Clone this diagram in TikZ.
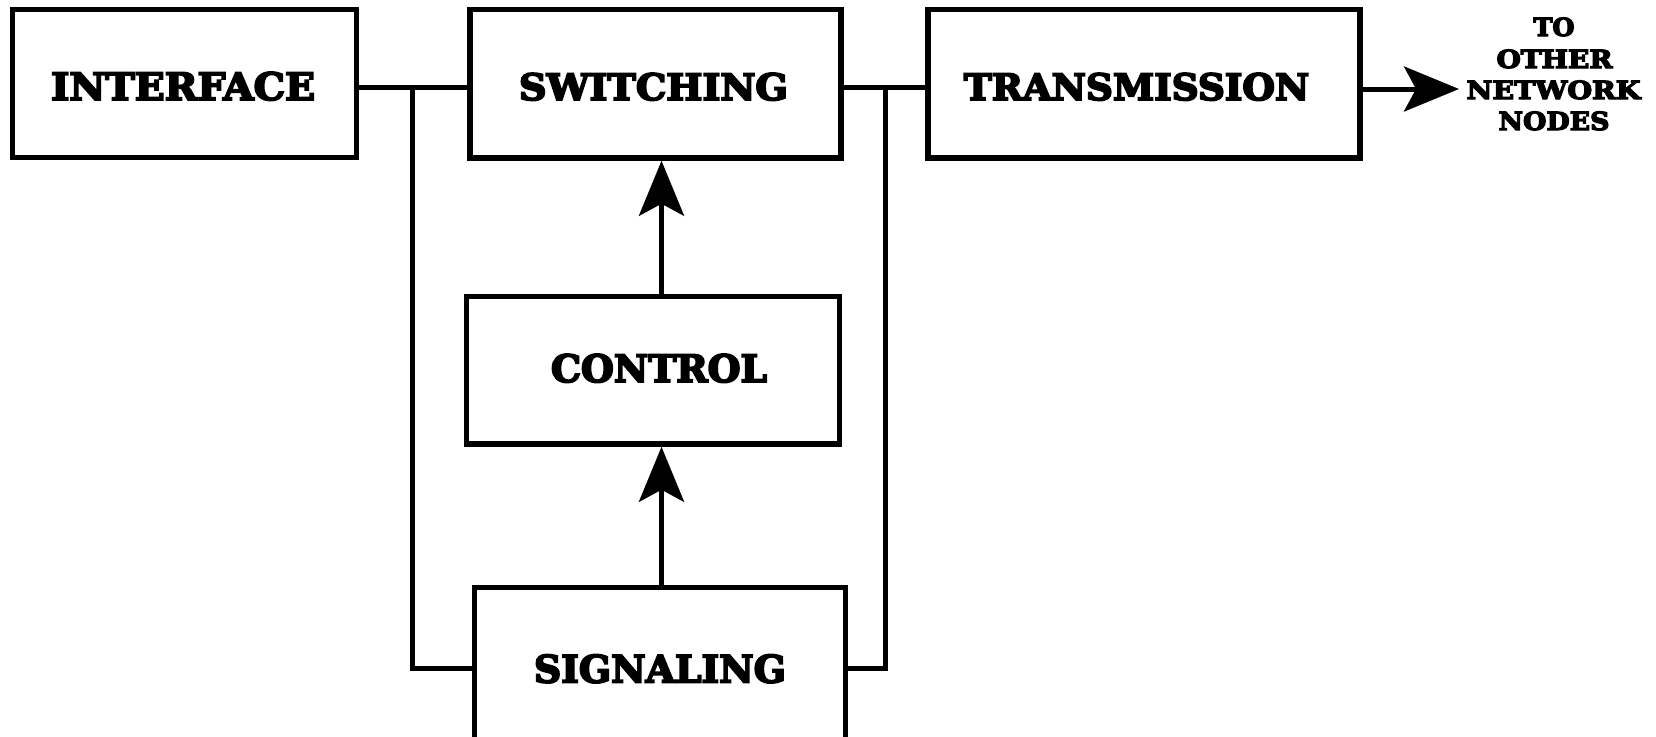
\documentclass[tikz,border=0pt]{standalone}
\usepackage{fontspec}
\usepackage{graphicx}
\setmainfont{DejaVu Serif}[BoldFeatures={FakeBold=5}]
\usetikzlibrary{arrows.meta}

% capital-letter label squeezed to a given width and cap height
\newcommand{\capword}[3]{\resizebox{#1pt}{#2pt}{\bfseries #3}}

\begin{document}
\begin{tikzpicture}[x=1pt,y=-1pt,
  block/.style={draw=black, line width=5.5pt, fill=none, inner sep=0pt, rectangle},
  word/.style={anchor=base, inner sep=0pt},
  wire/.style={line width=5pt, line cap=rect},
  flow/.style={line width=5pt, -{Stealth[length=55pt,width=45pt,inset=12pt]}}]

\useasboundingbox[fill=white] (0,0) rectangle (1656,736);

% blocks
\node[block, minimum width=344pt, minimum height=148pt]   (iface) at (184.5,83.5) {};
\node[block, minimum width=371pt, minimum height=148.5pt] (sw)    at (655.5,83.75) {};
\node[block, minimum width=432pt, minimum height=148.5pt] (tr)    at (1144,83.75) {};
\node[block, minimum width=373pt, minimum height=147.5pt] (ctl)   at (653,370.25) {};
\node[block, minimum width=371pt, minimum height=161pt]   (sig)   at (660,668) {};

% block titles
\node[word] (tIface) at (183,100)    {\capword{264}{28}{INTERFACE}};
\node[word] (tSw)    at (653.5,100)  {\capword{269}{27}{SWITCHING}};
\node[word] (tTr)    at (1136.5,100) {\capword{345}{27}{TRANSMISSION}};
\node[word] (tCtl)   at (659,382)    {\capword{216}{28}{CONTROL}};
\node[word] (tSig)   at (660,682.5)  {\capword{252}{28}{SIGNALING}};

% destination note
\node[word] (nTo)    at (1554,36)    {\capword{41}{18.5}{TO}};
\node[word] (nOther) at (1554.5,68)  {\capword{116}{18.5}{OTHER}};
\node[word] (nNet)   at (1553.5,99)  {\capword{174}{18.5}{NETWORK}};
\node[word] (nNodes) at (1554,130)   {\capword{111}{18.5}{NODES}};

% junction points of the bus lines
\coordinate (jl) at (412,87);
\coordinate (jr) at (885.5,87);
\coordinate (ax) at (661.5,0);
\coordinate (tip) at (1459,89);

% bus lines
\draw[wire] (iface.east |- jl) -- (sw.west |- jl);
\draw[wire] (sw.east |- jr) -- (tr.west |- jr);
\draw[wire] (jl) |- (sig.west);
\draw[wire] (jr) |- (sig.east);

% control flow
\draw[flow] (sig.north -| ax) -- (ctl.south -| ax);
\draw[flow] (ctl.north -| ax) -- (sw.south -| ax);
\draw[flow] (tr.east |- tip) -- (tip);

\end{tikzpicture}
\end{document}
